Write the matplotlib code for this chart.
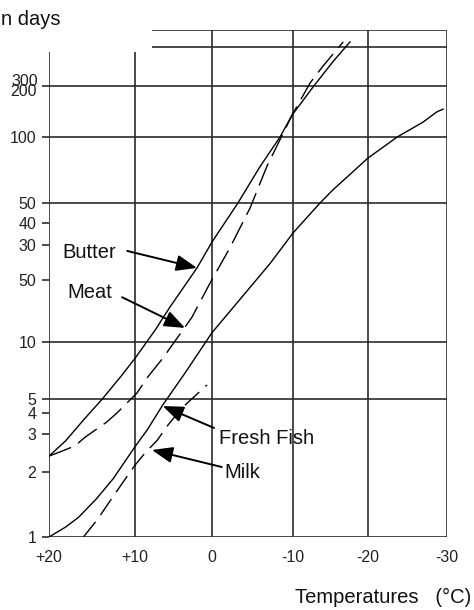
import numpy as np
import matplotlib
matplotlib.use("Agg")
import matplotlib.pyplot as plt
from matplotlib.ticker import FixedLocator, FixedFormatter
from matplotlib.transforms import ScaledTranslation

plt.rcParams['font.family'] = ['Liberation Sans', 'DejaVu Sans']
plt.rcParams['lines.scale_dashes'] = False

# ---------------- data ----------------
butter_t = [20, 18.1, 15.8, 13.8, 11.5, 10, 7.4, 5.45, 1.95, 0, -3.2, -5.9, -8.4, -9.9, -12.7, -15.3, -17.6]
butter_d = [2.37, 2.78, 3.73, 5.0, 6.7, 8.2, 11.4, 14.8, 23.0, 31.2, 50, 73, 100, 135, 198, 257, 327]

meat_t = [20, 18.7, 17.0, 15.8, 13.3, 12.1, 9.74, 8.44, 6.4, 3.8, 2.6, 0.26, -2.2, -4.7, -6.8, -9.9, -12.3, -14.0, -16.7]
meat_d = [2.37, 2.48, 2.64, 2.9, 3.53, 4.0, 5.38, 6.46, 8.2, 11.4, 13.2, 19.3, 29, 47.3, 73.8, 135, 207, 246, 327]

fish_t = [20, 18.1, 16.6, 14.5, 12.5, 10, 8.4, 6.4, 3.5, 0, -3.1, -7.2, -10, -13.6, -15.3, -20, -23.7, -27.0, -28.7, -29.5]
fish_d = [1.0, 1.11, 1.23, 1.50, 1.87, 2.62, 3.18, 4.54, 6.86, 11.1, 15.5, 24.3, 35.1, 50, 57.3, 80.2, 100, 122.7, 140.6, 146]

milk_t = [16.0, 14.4, 12.6, 11.2, 10, 8.7, 7.1, 5.7, 3.9, 2.5, 0.65]
milk_d = [1.0, 1.20, 1.53, 1.84, 2.15, 2.45, 2.81, 3.40, 4.34, 5.06, 5.93]

x_ticks = [20, 10, 0, -10, -20, -30]
x_labels = ['+20', '+10', '0', '-10', '-20', '-30']
y_ticks = [1, 2, 3, 4, 5, 10, 20, 30, 40, 50, 100, 200]
y_labels = ['1', '2', '3', '4', '5', '10', '50', '30', '40', '50', '100', '200']
y_grid = [1, 5, 10, 50, 100, 200]
top_lines = [300, 400]

# (label, arrow head (t, days), arrow tail (t, days), text (t, days), ha)
notes = [
    ('Butter', (1.95, 23.0), (10.9, 28.0), (12.2, 27.4), 'right'),
    ('Meat', (3.5, 11.7), (11.5, 16.5), (12.7, 17.3), 'right'),
    ('Fresh Fish', (6.4, 4.47), (-0.25, 3.26), (-0.86, 2.85), 'left'),
    ('Milk', (7.8, 2.53), (-1.2, 2.11), (-1.5, 2.0), 'left'),
]

# ------------- scale calibration of the hand-drawn grid -------------
xs_val = np.array([-30, -20, -10, 0, 10, 20], dtype=float)
xs_pos = np.array([-447, -368, -293, -212, -135, -49], dtype=float)
ys_val = np.log10([1, 2, 3, 4, 5, 10, 20, 30, 40, 50, 100, 200, 300, 400])
ys_pos = -np.array([537, 472, 434, 413, 399, 342, 280, 245, 223, 203, 137, 86, 47, 30], dtype=float)

def xf(t):
    return np.interp(np.asarray(t, dtype=float), xs_val, xs_pos)

def xi(p):
    return np.interp(np.asarray(p, dtype=float), xs_pos, xs_val)

def yf(v):
    v = np.clip(np.asarray(v, dtype=float), 1e-6, None)
    return np.interp(np.log10(v), ys_val, ys_pos)

def yi(p):
    return 10 ** np.interp(np.asarray(p, dtype=float), ys_pos, ys_val)

W, H = 474, 610
fig = plt.figure(figsize=(W / 100, H / 100), dpi=100)
ax = fig.add_axes([49 / W, (H - 537) / H, (447 - 49) / W, (537 - 30) / H])
ax.set_xscale('function', functions=(xf, xi))
ax.set_yscale('function', functions=(yf, yi))
ax.set_xlim(20, -30)
ax.set_ylim(1, 400)
for s in ax.spines.values():
    s.set_visible(False)

gc = '#2b2b2b'
glw = 1.2
for v in y_grid:
    ax.axhline(v, color=gc, lw=glw, zorder=1)
ax.hlines(top_lines, 7.8, -30, color=gc, lw=glw, zorder=1)
ax.vlines([20, 10], 1, 284, color=gc, lw=glw, zorder=1)
ax.vlines([0, -10, -20, -30], 1, 400, color=gc, lw=glw, zorder=1)

clw = 1.0
ax.plot(butter_t, butter_d, color='black', lw=clw, zorder=3)
ax.plot(meat_t, meat_d, color='black', lw=clw, dashes=(17, 6), zorder=3)
ax.plot(fish_t, fish_d, color='black', lw=clw, zorder=3)
ax.plot(milk_t, milk_d, color='black', lw=clw, dashes=(14, 6), zorder=3)

for label, head, tail, tpos, ha in notes:
    ax.annotate('', xy=head, xytext=tail,
                arrowprops=dict(arrowstyle='-|>,head_length=0.9,head_width=0.35',
                                color='black', lw=1.4, shrinkA=0, shrinkB=0,
                                mutation_scale=14), zorder=4)
    ax.text(tpos[0], tpos[1], label, ha=ha, va='center', fontsize=14.5, color='#111111')

ax.xaxis.set_major_locator(FixedLocator(x_ticks))
ax.xaxis.set_major_formatter(FixedFormatter(x_labels))
ax.xaxis.set_minor_locator(FixedLocator([]))
ax.yaxis.set_major_locator(FixedLocator(y_ticks))
ax.yaxis.set_major_formatter(FixedFormatter(y_labels))
ax.yaxis.set_minor_locator(FixedLocator([]))
ax.tick_params(axis='x', length=0, pad=9, labelsize=11.5, labelcolor='#222222')
ax.tick_params(axis='y', length=5, width=1.2, color=gc, direction='out', pad=4,
               labelsize=11.5, labelcolor='#222222')

fig.canvas.draw()
for lab in ax.get_yticklabels():
    if lab.get_text() == '200':
        lab.set_transform(lab.get_transform() + ScaledTranslation(0, -3 / 72, fig.dpi_scale_trans))
ax.annotate('300', xy=(0, 200), xycoords=('axes fraction', 'data'),
            xytext=(-8, 3), textcoords='offset points', ha='right', va='center',
            fontsize=11.5, color='#222222')

fig.text(1 / W, 1 - 25 / H, 'n days', ha='left', va='baseline', fontsize=14.5, color='#111111')
fig.text(295 / W, 1 - 597 / H, 'Temperatures   (°C)', ha='left', va='center', fontsize=14.5, color='#111111')

fig.savefig('out.png', dpi=100)
